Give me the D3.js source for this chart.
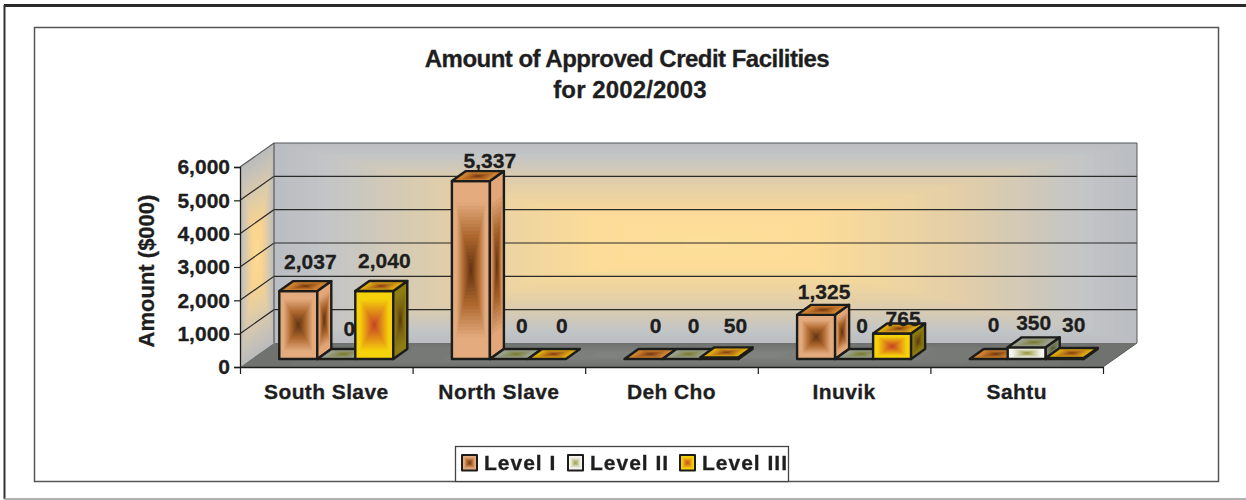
<!DOCTYPE html>
<html><head><meta charset="utf-8">
<script src="https://cdn.jsdelivr.net/npm/d3@7/dist/d3.min.js"></script>
<style>
html,body{margin:0;padding:0;background:#fff;overflow:hidden}
svg{display:block;filter:blur(0.45px)}
text{font-family:"Liberation Sans",Arial,sans-serif;font-weight:bold;fill:#1e1e1e;stroke:#1e1e1e;stroke-width:.3px}
</style></head><body><svg id="c" width="1246" height="500"></svg>
<script>
const categories = ["South Slave","North Slave","Deh Cho","Inuvik","Sahtu"];
const levels = ["Level I","Level II","Level III"];
const levelI = [2037,5337,0,1325,0];
const levelII = [0,0,0,0,350];
const levelIII = [2040,0,50,765,30];
const yTicks = [0,1000,2000,3000,4000,5000,6000];
const titleLines = ["Amount of Approved Credit Facilities","for 2002/2003"];
const yTitle = "Amount ($000)";

// hand placement of Excel's data labels, relative to each bar
const labelDxI = [5,12,5,1,-2], labelDxII = [6,6,5,1,0], labelDxIII = [3,8,9,4,2];
const labelDyI = [-30,-21,-34,-23,-35], labelDyII = [-31,-34,-34,-34,-25], labelDyIII = [-31,-34,-32,-15,-34];

const series = [levelI,levelII,levelIII];
const labelDx = [labelDxI,labelDxII,labelDxIII], labelDy = [labelDyI,labelDyII,labelDyIII];

const svg = d3.select("#c");
const ink = "#1c1c1a";
const wall = {dx:34, dy:-24};          // chart depth
const barDepth = {dx:14, dy:-10};
const barFront = {dx:10, dy:-8};       // bars' front plane inside the chart depth

const x = d3.scaleBand().domain(categories).range([240,1103]).paddingInner(0).paddingOuter(0);
const xEdges = d3.scaleLinear().domain([0,categories.length]).range([240,1103]);
const y = d3.scaleLinear().domain([0,6000]).range([367,167]);
const inner = d3.scaleBand().domain(levels).range([0,x.bandwidth()]).paddingInner(0).paddingOuter(0.771);

// rectangular "from centre" gradient built from concentric polygons
function face(g, pts, ramp, steps, stroke){
  const cx = d3.mean(pts,p=>p[0]), cy = d3.mean(pts,p=>p[1]);
  const line = p=>p.map(q=>q.join(",")).join(" ");
  d3.range(steps).forEach(i=>{
    const t = i/(steps-1), k = 1-t;
    g.append("polygon")
     .attr("points", line(pts.map(p=>[cx+(p[0]-cx)*k, cy+(p[1]-cy)*k])))
     .attr("fill", ramp(t));
  });
  if(stroke) g.append("polygon").attr("points",line(pts)).attr("fill","none")
     .attr("stroke",ink).attr("stroke-width",stroke).attr("stroke-linejoin","round");
}
const ramp = (e,m,c)=>d3.scaleLinear().domain([0,.22,.6,1]).range([e,e,m,c]);

const palette = [
 {front:ramp("#e3ab7e","#ad672e","#5f3010"), side:ramp("#e2a678","#a8622a","#5f3010"), top:ramp("#cf8230","#a85f20","#653310")},
 {front:ramp("#f6f6f0","#c9caa0","#8f9128"), side:ramp("#7d8770","#6f7458","#55581e"), top:ramp("#9aa08e","#8b8f60","#74761e")},
 {front:ramp("#f6d20a","#e08a18","#c4402a"), side:ramp("#8d7d12","#7b6312","#5a3512"), top:ramp("#dba80e","#b8741a","#7e3614")}
];

// frame
svg.append("line").attr("x1",4).attr("x2",1246).attr("y1",5.5).attr("y2",5.5).attr("stroke","#2a2a2a").attr("stroke-width",3);
svg.append("line").attr("x1",4.5).attr("x2",4.5).attr("y1",5).attr("y2",499).attr("stroke","#333").attr("stroke-width",2);
svg.append("line").attr("x1",4).attr("x2",1246).attr("y1",499).attr("y2",499).attr("stroke","#999").attr("stroke-width",1.5);
svg.append("rect").attr("x",34.5).attr("y",27.5).attr("width",1184).attr("height",454).attr("fill","#fff").attr("stroke","#555").attr("stroke-width",1.5);

// title
const titleSpacing = [-0.52,0.1], titleX = [627,630];
titleLines.forEach((t,i)=>svg.append("text").attr("x",titleX[i]).attr("y",67+i*30.5)
  .attr("text-anchor","middle").attr("font-size",24).attr("letter-spacing",titleSpacing[i]).text(t));

const x0=x.range()[0], x1=x.range()[1], y0=y(0), yT=y(6000);
const back = (px,py)=>[px+wall.dx,py+wall.dy];

// walls & floor
const g = svg.append("g");
const wallRamp = d3.scaleLinear().domain([0,.12,.42,.74,1]).range(["#babdc1","#c3c5c6","#e4cfa6","#fcdc98","#fedf9a"]);
const sideRamp = d3.scaleLinear().domain([0,.3,.7,1]).range(["#bcbcbc","#d6c9b0","#fad48e","#fddb98"]);
face(g,[back(x0,yT),back(x1,yT),back(x1,y0),back(x0,y0)],wallRamp,60);
face(g,[[x0,yT],back(x0,yT),back(x0,y0),[x0,y0]],sideRamp,24);
const floorRamp = d3.scaleLinear().domain([0,1]).range(["#707270","#848683"]);
face(g,[[x0,y0],back(x0,y0),back(x1,y0),[x1,y0]],floorRamp,10);

// grid
yTicks.forEach(v=>{
  const p=[x0,y(v)], q=back(x0,y(v)), r=back(x1,y(v));
  if(v>0) g.append("polyline").attr("points",[p,q,r].map(a=>a.join(",")).join(" "))
    .attr("fill","none").attr("stroke",v===6000?"#55585a":"#2a2a28").attr("stroke-width",1.2);
});
g.append("polyline").attr("points",[back(x1,yT),back(x1,y0),[x1,y0]].map(a=>a.join(",")).join(" "))
  .attr("fill","none").attr("stroke","#55585a").attr("stroke-width",1);
g.append("line").attr("x1",back(x0,0)[0]).attr("x2",back(x0,0)[0]).attr("y1",back(x0,yT)[1]).attr("y2",back(x0,y0)[1]).attr("stroke","#444").attr("stroke-width",1);

// bars
const barG = svg.append("g");
categories.forEach((cat,ci)=>{
  series.forEach((vals,si)=>{
    const v = vals[ci];
    const bx = x(cat)+inner(levels[si])+barFront.dx, w = inner.bandwidth();
    const by = y0+barFront.dy, h = y0-y(v), ty = by-h;
    const dx = barDepth.dx, dy = barDepth.dy;
    const gg = barG.append("g");
    if(h>0.5){
      face(gg,[[bx,ty],[bx+w,ty],[bx+w,by],[bx,by]],palette[si].front,26,2.4);
      face(gg,[[bx+w,ty],[bx+w+dx,ty+dy],[bx+w+dx,by+dy],[bx+w,by]],palette[si].side,20,2.4);
    }
    face(gg,[[bx,ty],[bx+dx,ty+dy],[bx+w+dx,ty+dy],[bx+w,ty]],palette[si].top,14,2.4);
  });
});

// data labels
const fmt = d3.format(",");
categories.forEach((cat,ci)=>{
  series.forEach((vals,si)=>{
    const v = vals[ci];
    const bx = x(cat)+inner(levels[si])+barFront.dx+inner.bandwidth()/2+barDepth.dx/2;
    const ty = y0+barFront.dy-(y0-y(v));
    svg.append("text").attr("x",bx+labelDx[si][ci]).attr("y",ty+labelDy[si][ci]+7.5)
      .attr("text-anchor","middle").attr("font-size",21).text(fmt(v));
  });
});

// axes
const yAxis = d3.axisLeft(y).tickValues(yTicks).tickFormat(fmt).tickSize(6).tickPadding(4);
const ya = svg.append("g").attr("transform",`translate(${x0},0)`).call(yAxis);
ya.select(".domain").attr("stroke",ink).attr("stroke-width",1.3);
ya.selectAll("line").attr("stroke",ink).attr("stroke-width",1.2);
ya.selectAll("text").attr("font-size",21).attr("fill","#1e1e1e");

const xTickAxis = d3.axisBottom(xEdges).tickValues(d3.range(categories.length+1)).tickFormat("").tickSize(7).tickSizeOuter(0);
const xt = svg.append("g").attr("transform",`translate(0,${y0})`).call(xTickAxis);
xt.select(".domain").attr("stroke",ink).attr("stroke-width",1.3);
xt.selectAll("line").attr("stroke",ink).attr("stroke-width",1.2);
const xAxis = d3.axisBottom(x).tickSize(0).tickPadding(17);
const xl = svg.append("g").attr("transform",`translate(0,${y0})`).call(xAxis);
xl.select(".domain").remove();
xl.selectAll("text").attr("font-size",21).attr("letter-spacing",0.4).attr("fill","#1e1e1e");

svg.append("text").attr("transform","translate(154,271) rotate(-90)").attr("text-anchor","middle")
  .attr("font-size",22).text(yTitle);

// legend
const lg = svg.append("g");
lg.append("rect").attr("x",455.5).attr("y",446.5).attr("width",333).attr("height",35).attr("fill","#fff").attr("stroke","#444").attr("stroke-width",1.3);
const keyX = d3.scaleOrdinal().domain(levels).range([462,568,680]);
levels.forEach((l,i)=>{
  const kx=keyX(l), kg=lg.append("g");
  face(kg,[[kx,455],[kx+15,455],[kx+15,470.5],[kx,470.5]],palette[i].front,8,2);
  lg.append("text").attr("x",kx+22).attr("y",470).attr("font-size",21).attr("letter-spacing",1).text(l);
});
</script></body></html>
